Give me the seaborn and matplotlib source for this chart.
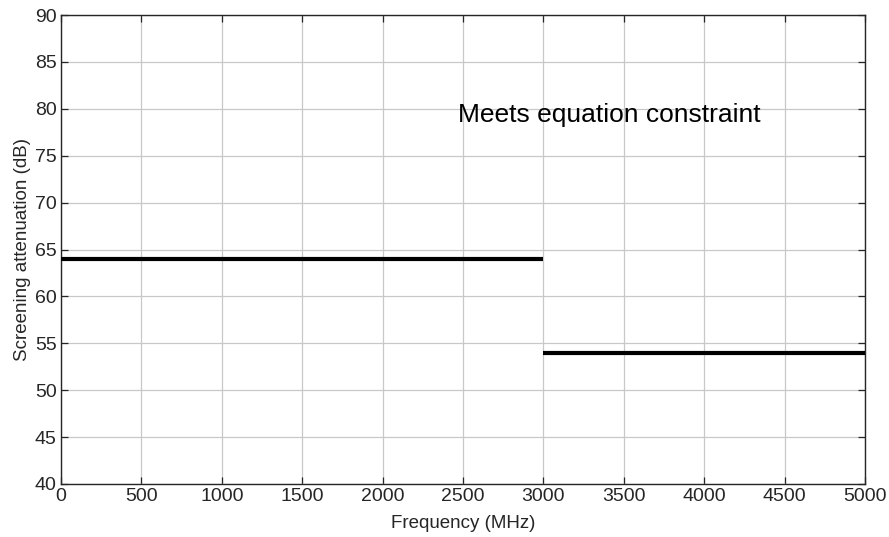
import matplotlib
matplotlib.use("Agg")
import matplotlib.pyplot as plt
import seaborn as sns
import pandas as pd

# Screening attenuation requirement per frequency band
band_start_mhz = [0, 3000]
band_end_mhz = [3000, 5000]
attenuation_db = [64, 54]

rows = []
for i, (f0, f1, a) in enumerate(zip(band_start_mhz, band_end_mhz, attenuation_db)):
    rows.append({"band": i, "freq": f0, "atten": a})
    rows.append({"band": i, "freq": f1, "atten": a})
df = pd.DataFrame(rows)

sns.set_theme(style="white")
plt.rcParams["font.family"] = ["Liberation Sans", "DejaVu Sans"]

fig = plt.figure(figsize=(8.89, 5.37), dpi=100)
ax = fig.add_axes([61 / 889, 1 - 484 / 537, (865 - 61) / 889, (484 - 15) / 537])

sns.lineplot(data=df, x="freq", y="atten", units="band", estimator=None,
             color="black", linewidth=3.0, ax=ax, zorder=3)
for ln in ax.get_lines():
    ln.set_solid_capstyle("butt")

ax.set_xlim(0, 5000)
ax.set_ylim(40, 90)
ax.set_xticks(range(0, 5001, 500))
ax.set_yticks(range(40, 91, 5))
ax.grid(True, color="#c8c8c8", linewidth=0.9)
ax.set_axisbelow(True)
for s in ax.spines.values():
    s.set_visible(True)
    s.set_color("#262626")
    s.set_linewidth(1.0)
ax.tick_params(direction="in", length=5, width=0.9, colors="#262626",
               labelsize=14, labelcolor="#262626", pad=3,
               top=True, right=True, bottom=True, left=True,
               labeltop=False, labelright=False)

ax.set_xlabel("Frequency (MHz)", fontsize=13.5, color="#262626", labelpad=7)
ax.set_ylabel("Screening attenuation (dB)", fontsize=13.5, color="#262626", labelpad=3)

ax.text(2470, 79.3, "Meets equation constraint", fontsize=19, color="black",
        ha="left", va="center")

fig.savefig("out.png", dpi=100)
